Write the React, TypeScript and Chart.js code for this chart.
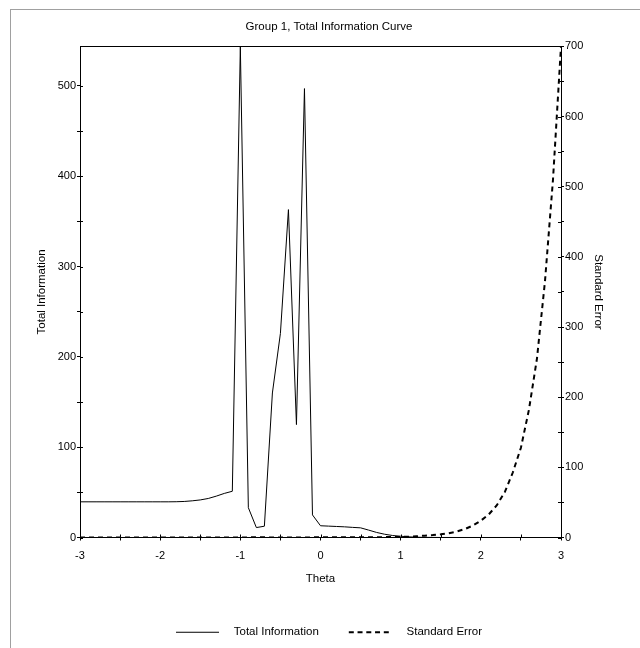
import React, { useEffect, useRef } from "react";
import { Chart, registerables } from "chart.js";

Chart.register(...registerables);

// Theta grid (x values)
const theta = [
  -3.0, -2.9, -2.8, -2.7, -2.6, -2.5, -2.4, -2.3, -2.2, -2.1,
  -2.0, -1.9, -1.8, -1.7, -1.6, -1.5, -1.4, -1.3, -1.2, -1.1,
  -1.0, -0.9, -0.8, -0.7, -0.6, -0.5, -0.4, -0.3, -0.2, -0.1,
  0.0, 0.1, 0.2, 0.3, 0.4, 0.5, 0.6, 0.7, 0.8, 0.9,
  1.0, 1.1, 1.2, 1.3, 1.4, 1.5, 1.6, 1.7, 1.8, 1.9,
  2.0, 2.1, 2.2, 2.3, 2.4, 2.5, 2.6, 2.7, 2.8, 2.9,
  3.0,
];

// Total Information (left axis)
const totalInformation = [
  39.5, 39.5, 39.5, 39.5, 39.5, 39.5, 39.5, 39.5, 39.5, 39.5,
  39.5, 39.5, 39.6, 39.9, 40.6, 41.6, 43.2, 45.8, 48.8, 51.2,
  543.7, 33, 11, 12.5, 160, 226, 363, 125, 497, 25,
  13, 12.6, 12.2, 11.8, 11.2, 10.7, 8.2, 5.6, 3.6, 2.2,
  1.4, 0.72, 0.31, 0.15, 0.087, 0.05, 0.028, 0.014, 0.0069, 0.0035,
  0.0017, 0.0009, 0.00047, 0.00024, 0.00012, 0.00006, 0.00003, 0.000015, 0.0000075, 0.0000038,
  0.000002,
];

// Standard Error (right axis)
const standardError = [
  0.16, 0.16, 0.16, 0.16, 0.16, 0.16, 0.16, 0.16, 0.16, 0.16,
  0.16, 0.16, 0.16, 0.16, 0.157, 0.155, 0.152, 0.148, 0.143, 0.14,
  0.043, 0.174, 0.3, 0.28, 0.079, 0.066, 0.052, 0.089, 0.045, 0.2,
  0.277, 0.28, 0.29, 0.29, 0.3, 0.31, 0.35, 0.42, 0.53, 0.67,
  0.85, 1.2, 1.8, 2.6, 3.4, 4.5, 6, 8.5, 12, 17,
  24, 33, 46, 65, 93, 128, 182, 255, 365, 510,
  700,
];

// Tick positions and labelled ticks
const xTickValues = [-3, -2.5, -2, -1.5, -1, -0.5, 0, 0.5, 1, 1.5, 2, 2.5, 3];
const xTickLabels = [-3, -2, -1, 0, 1, 2, 3];
const leftTickValues = [0, 50, 100, 150, 200, 250, 300, 350, 400, 450, 500];
const leftTickLabels = [0, 100, 200, 300, 400, 500];
const rightTickValues = [0, 50, 100, 150, 200, 250, 300, 350, 400, 450, 500, 550, 600, 650, 700];
const rightTickLabels = [0, 100, 200, 300, 400, 500, 600, 700];

const FAMILY = '"Liberation Sans", Arial, Helvetica, sans-serif';
const FONT = { family: FAMILY, size: 11.5, weight: "normal" as const };
const TICK_FONT = { family: FAMILY, size: 11, weight: "normal" as const };

// Draws the inward half of each tick mark so ticks cross the axis lines
const innerTicks = {
  id: "innerTicks",
  afterDraw(chart: any) {
    const { ctx, chartArea } = chart;
    const len = 3;
    ctx.save();
    ctx.strokeStyle = "#000";
    ctx.lineWidth = 1;
    ctx.beginPath();
    const xs = chart.scales.x;
    xs.ticks.forEach((t: any) => {
      const px = Math.round(xs.getPixelForValue(t.value)) + 0.5;
      ctx.moveTo(px, chartArea.bottom);
      ctx.lineTo(px, chartArea.bottom - len);
    });
    const ys = chart.scales.y;
    ys.ticks.forEach((t: any) => {
      const py = Math.round(ys.getPixelForValue(t.value)) + 0.5;
      ctx.moveTo(chartArea.left, py);
      ctx.lineTo(chartArea.left + len, py);
    });
    const y1 = chart.scales.y1;
    y1.ticks.forEach((t: any) => {
      const py = Math.round(y1.getPixelForValue(t.value)) + 0.5;
      ctx.moveTo(chartArea.right, py);
      ctx.lineTo(chartArea.right - len, py);
    });
    ctx.stroke();
    ctx.restore();
  },
};

export default function App() {
  const ref = useRef<HTMLCanvasElement | null>(null);

  useEffect(() => {
    const canvas = ref.current;
    if (!canvas) return;

    const border = { display: true, color: "#000", width: 1 };
    const grid = {
      display: true,
      drawOnChartArea: false,
      drawTicks: true,
      tickLength: 3,
      color: "#000",
      tickColor: "#000",
    };

    const chart = new Chart(canvas, {
      type: "line",
      plugins: [innerTicks],
      data: {
        datasets: [
          {
            label: "Total Information",
            data: theta.map((t, i) => ({ x: t, y: totalInformation[i] })),
            borderColor: "#000",
            backgroundColor: "transparent",
            borderWidth: 1,
            pointRadius: 0,
            tension: 0,
            fill: false,
            xAxisID: "x",
            yAxisID: "y",
          },
          {
            label: "Standard Error",
            data: theta.map((t, i) => ({ x: t, y: standardError[i] })),
            borderColor: "#000",
            backgroundColor: "transparent",
            borderWidth: 2,
            borderDash: [5, 4],
            pointRadius: 0,
            tension: 0,
            fill: false,
            xAxisID: "x",
            yAxisID: "y1",
          },
        ],
      },
      options: {
        animation: false,
        responsive: false,
        maintainAspectRatio: false,
        layout: { padding: 0 },
        plugins: {
          title: {
            display: true,
            text: "Group 1, Total Information Curve",
            color: "#000",
            font: FONT,
            padding: { top: 10, bottom: 12.6 },
          },
          legend: {
            position: "bottom",
            labels: {
              usePointStyle: true,
              pointStyle: "line",
              pointStyleWidth: 52,
              boxHeight: 11,
              color: "#000",
              font: FONT,
              padding: 30,
              generateLabels: () => [
                {
                  text: "Total Information",
                  fillStyle: "transparent",
                  strokeStyle: "#000",
                  fontColor: "#000",
                  lineWidth: 1,
                  lineDash: [43, 100],
                  pointStyle: "line",
                  hidden: false,
                  datasetIndex: 0,
                },
                {
                  text: "Standard Error",
                  fillStyle: "transparent",
                  strokeStyle: "#000",
                  fontColor: "#000",
                  lineWidth: 2,
                  lineDash: [5, 3.75, 5, 3.75, 5, 3.75, 5, 3.75, 5, 100],
                  pointStyle: "line",
                  hidden: false,
                  datasetIndex: 1,
                },
              ],
            },
          },
          tooltip: { enabled: false },
        },
        scales: {
          x: {
            type: "linear",
            position: "bottom",
            min: -3,
            max: 3,
            afterBuildTicks: (a: any) => {
              a.ticks = xTickValues.map((v) => ({ value: v }));
            },
            ticks: {
              autoSkip: false,
              maxRotation: 0,
              color: "#000",
              font: TICK_FONT,
              padding: 9,
              callback: (v: any) => (xTickLabels.includes(Number(v)) ? String(v) : ""),
            },
            grid,
            border,
            title: {
              display: true,
              text: "Theta",
              color: "#000",
              font: FONT,
              padding: { top: 0, bottom: 11 },
            },
            afterFit: (a: any) => {
              a.height = 59;
            },
          },
          xTop: {
            type: "linear",
            position: "top",
            min: -3,
            max: 3,
            ticks: { display: false },
            grid: { display: false, drawTicks: false },
            border,
            afterFit: (a: any) => {
              a.height = 0;
            },
          },
          y: {
            type: "linear",
            position: "left",
            min: 0,
            max: Math.max(...totalInformation),
            afterBuildTicks: (a: any) => {
              a.ticks = leftTickValues.map((v) => ({ value: v }));
            },
            ticks: {
              autoSkip: false,
              color: "#000",
              font: TICK_FONT,
              padding: 1,
              callback: (v: any) => (leftTickLabels.includes(Number(v)) ? String(v) : ""),
            },
            grid,
            border,
            title: {
              display: true,
              text: "Total Information",
              color: "#000",
              font: FONT,
              padding: { top: 24, bottom: 0 },
            },
            afterFit: (a: any) => {
              a.width = 69;
            },
          },
          y1: {
            type: "linear",
            position: "right",
            min: 0,
            max: 700,
            afterBuildTicks: (a: any) => {
              a.ticks = rightTickValues.map((v) => ({ value: v }));
            },
            ticks: {
              autoSkip: false,
              color: "#000",
              font: TICK_FONT,
              padding: 1,
              callback: (v: any) => (rightTickLabels.includes(Number(v)) ? String(v) : ""),
            },
            grid,
            border,
            title: {
              display: true,
              text: "Standard Error",
              color: "#000",
              font: FONT,
              padding: { top: 42, bottom: 0 },
            },
            afterFit: (a: any) => {
              a.width = 86;
            },
          },
        },
      } as any,
    });

    return () => chart.destroy();
  }, []);

  return (
    <div
      style={{
        position: "fixed",
        left: 0,
        top: 0,
        width: 640,
        height: 648,
        overflow: "hidden",
        background: "#fff",
      }}
    >
      <div
        style={{
          position: "absolute",
          left: 10,
          top: 9,
          width: 700,
          height: 700,
          borderLeft: "1px solid #a0a0a0",
          borderTop: "1px solid #a0a0a0",
        }}
      />
      <canvas
        ref={ref}
        width={636}
        height={638}
        style={{ position: "absolute", left: 11, top: 10, width: 636, height: 638 }}
      />
    </div>
  );
}
